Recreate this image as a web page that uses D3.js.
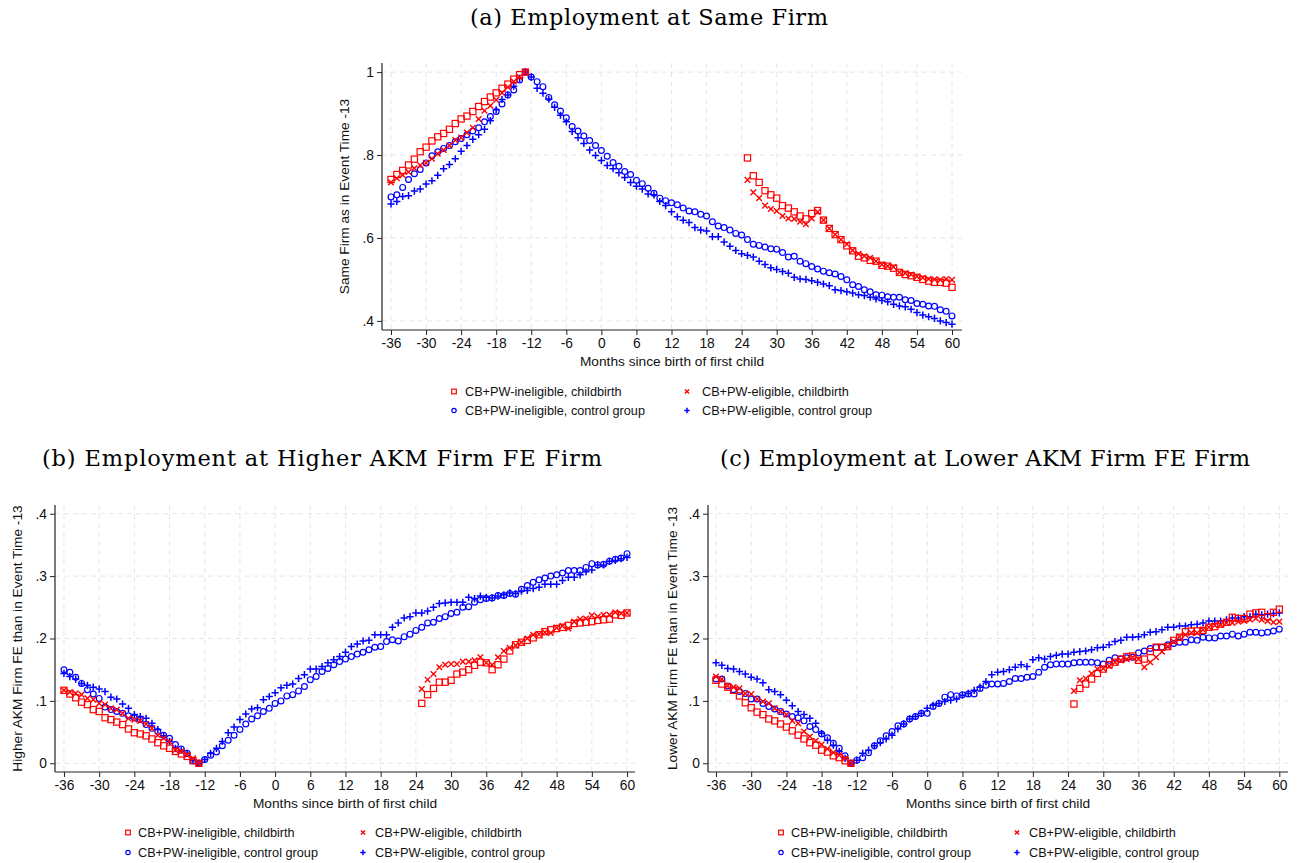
<!DOCTYPE html>
<html><head><meta charset="utf-8">
<script src="https://cdn.jsdelivr.net/npm/d3@7"></script>
<style>
body{margin:0;background:#fff;}
svg{display:block;}
</style></head>
<body><svg id="chart" width="1299" height="863"></svg>
<script>
// ---------- DATA ----------
const monthsAll = d3.range(-36, 61);                 // control groups: -36..60
const monthsChild = d3.range(-36, -12).concat(d3.range(25, 61)); // childbirth: -36..-13, 25..60
const xTicks = [-36,-30,-24,-18,-12,-6,0,6,12,18,24,30,36,42,48,54,60];
const yTicksA = [0.4,0.6,0.8,1];
const yTicksBC = [0,0.1,0.2,0.3,0.4];
const seriesNames = ["CB+PW-ineligible, childbirth","CB+PW-eligible, childbirth","CB+PW-ineligible, control group","CB+PW-eligible, control group"];
const titles = ["(a) Employment at Same Firm","(b) Employment at Higher AKM Firm FE Firm","(c) Employment at Lower AKM Firm FE Firm"];
const xTitle = "Months since birth of first child";
const yTitles = ["Same Firm as in Event Time -13","Higher AKM Firm FE than in Event Time -13","Lower AKM Firm FE than in Event Time -13"];

// Panel (a) Same firm
const aInelChild = [0.741,0.753,0.763,0.776,0.790,0.808,0.819,0.834,0.844,0.852,0.862,0.876,0.887,0.894,0.905,0.917,0.929,0.940,0.950,0.961,0.971,0.983,0.994,1.0,
 0.793,0.750,0.734,0.714,0.704,0.696,0.678,0.672,0.663,0.653,0.646,0.659,0.666,0.643,0.623,0.608,0.596,0.581,0.569,0.556,0.552,0.546,0.544,0.534,0.532,0.527,0.517,0.512,0.509,0.505,0.500,0.496,0.493,0.493,0.491,0.481];
const aEligChild = [0.734,0.744,0.752,0.759,0.768,0.775,0.781,0.791,0.803,0.812,0.823,0.836,0.842,0.854,0.866,0.887,0.907,0.919,0.933,0.950,0.964,0.977,0.988,1.0,
 0.740,0.710,0.696,0.678,0.670,0.665,0.653,0.647,0.646,0.639,0.633,0.647,0.663,0.643,0.623,0.608,0.596,0.585,0.570,0.562,0.556,0.552,0.544,0.536,0.532,0.530,0.517,0.515,0.512,0.507,0.504,0.501,0.500,0.499,0.501,0.499];
const aInelCtrl = [0.699,0.704,0.722,0.741,0.755,0.765,0.781,0.798,0.808,0.816,0.823,0.832,0.840,0.849,0.858,0.866,0.880,0.893,0.905,0.923,0.945,0.957,0.981,1.0,
 0.988,0.977,0.965,0.939,0.921,0.906,0.890,0.869,0.858,0.846,0.835,0.823,0.811,0.797,0.782,0.773,0.760,0.753,0.739,0.731,0.720,
 0.708,0.696,0.690,0.685,0.680,0.672,0.665,0.663,0.657,0.653,0.639,0.629,0.625,0.619,0.611,0.607,0.596,0.585,0.582,0.578,0.574,0.573,0.565,0.554,0.556,0.544,0.538,0.531,0.525,0.520,0.516,0.513,0.507,0.499,0.487,0.483,0.475,0.470,0.463,0.462,0.458,0.457,0.457,0.451,0.449,0.442,0.440,0.436,0.435,0.427,0.423,0.412];
const aEligCtrl = [0.682,0.688,0.700,0.702,0.713,0.718,0.730,0.738,0.751,0.767,0.777,0.791,0.809,0.823,0.838,0.849,0.862,0.883,0.909,0.934,0.945,0.966,0.985,1.0,
 0.988,0.961,0.949,0.935,0.915,0.896,0.880,0.857,0.842,0.828,0.812,0.799,0.787,0.775,0.767,0.757,0.746,0.734,0.725,0.718,0.706,
 0.704,0.688,0.678,0.663,0.651,0.643,0.637,0.625,0.619,0.617,0.603,0.603,0.590,0.580,0.570,0.562,0.558,0.554,0.544,0.536,0.528,0.524,0.519,0.515,0.505,0.501,0.500,0.497,0.493,0.489,0.485,0.475,0.473,0.470,0.467,0.463,0.461,0.457,0.453,0.449,0.446,0.440,0.436,0.434,0.428,0.420,0.414,0.410,0.406,0.400,0.396,0.392];

// Panel (b) Higher AKM firm FE
const bInelChild = [0.117,0.111,0.105,0.098,0.094,0.086,0.083,0.073,0.070,0.066,0.062,0.055,0.049,0.047,0.044,0.039,0.033,0.028,0.024,0.019,0.015,0.011,0.004,0.0,
 0.096,0.110,0.120,0.130,0.130,0.133,0.143,0.146,0.150,0.157,0.162,0.161,0.150,0.158,0.167,0.180,0.190,0.194,0.197,0.201,0.206,0.211,0.214,0.216,0.218,0.221,0.224,0.225,0.226,0.227,0.229,0.230,0.231,0.238,0.237,0.241];
const bEligChild = [0.117,0.114,0.112,0.110,0.104,0.102,0.096,0.094,0.088,0.086,0.080,0.072,0.070,0.068,0.063,0.056,0.045,0.040,0.035,0.021,0.019,0.013,0.008,0.0,
 0.119,0.134,0.143,0.154,0.158,0.159,0.159,0.163,0.163,0.165,0.170,0.161,0.158,0.170,0.180,0.185,0.189,0.194,0.200,0.206,0.207,0.210,0.209,0.217,0.220,0.216,0.227,0.231,0.232,0.237,0.235,0.238,0.238,0.242,0.240,0.241];
const bInelCtrl = [0.150,0.146,0.138,0.128,0.118,0.111,0.104,0.090,0.086,0.083,0.080,0.076,0.073,0.070,0.062,0.056,0.051,0.045,0.040,0.030,0.023,0.016,0.004,0.0,
 0.006,0.013,0.018,0.028,0.037,0.045,0.054,0.063,0.071,0.076,0.083,0.088,0.096,0.100,0.108,0.110,0.116,0.123,0.134,0.139,0.147,
 0.152,0.158,0.163,0.167,0.171,0.175,0.178,0.182,0.186,0.187,0.195,0.198,0.196,0.203,0.207,0.213,0.218,0.225,0.226,0.232,0.235,0.240,0.242,0.250,0.251,0.258,0.262,0.264,0.265,0.269,0.269,0.272,0.271,0.279,0.285,0.290,0.294,0.297,0.300,0.302,0.305,0.309,0.309,0.309,0.314,0.320,0.318,0.319,0.324,0.327,0.329,0.336];
const bEligCtrl = [0.144,0.139,0.135,0.128,0.125,0.122,0.119,0.115,0.106,0.103,0.095,0.088,0.078,0.075,0.072,0.064,0.054,0.044,0.035,0.024,0.021,0.016,0.004,0.0,
 0.006,0.016,0.024,0.035,0.049,0.058,0.070,0.079,0.087,0.089,0.102,0.107,0.113,0.121,0.125,0.127,0.136,0.142,0.151,0.151,0.155,
 0.161,0.166,0.171,0.178,0.187,0.191,0.196,0.197,0.206,0.206,0.206,0.218,0.225,0.233,0.235,0.241,0.241,0.244,0.250,0.256,0.257,0.258,0.258,0.258,0.266,0.264,0.268,0.266,0.265,0.268,0.270,0.273,0.272,0.276,0.277,0.280,0.282,0.287,0.287,0.287,0.293,0.298,0.298,0.302,0.307,0.310,0.318,0.318,0.324,0.325,0.328,0.330];

// Panel (c) Lower AKM firm FE
const cInelChild = [0.133,0.127,0.122,0.117,0.108,0.097,0.089,0.082,0.078,0.071,0.068,0.063,0.058,0.052,0.045,0.039,0.033,0.029,0.021,0.018,0.012,0.009,0.004,0.0,
 0.095,0.120,0.127,0.135,0.144,0.151,0.158,0.162,0.167,0.171,0.172,0.165,0.167,0.179,0.186,0.186,0.187,0.197,0.202,0.211,0.212,0.212,0.213,0.218,0.219,0.223,0.226,0.234,0.232,0.232,0.239,0.241,0.242,0.235,0.242,0.247];
const cEligChild = [0.139,0.135,0.124,0.122,0.120,0.112,0.111,0.103,0.099,0.096,0.088,0.083,0.078,0.068,0.064,0.051,0.043,0.036,0.030,0.023,0.017,0.013,0.008,0.0,
 0.116,0.133,0.136,0.144,0.151,0.152,0.156,0.162,0.165,0.167,0.170,0.167,0.154,0.162,0.170,0.179,0.187,0.195,0.203,0.206,0.209,0.209,0.214,0.218,0.221,0.222,0.225,0.225,0.227,0.228,0.230,0.232,0.230,0.228,0.226,0.227];
const cInelCtrl = [0.135,0.135,0.124,0.118,0.115,0.112,0.103,0.103,0.096,0.091,0.087,0.083,0.079,0.075,0.073,0.068,0.059,0.054,0.047,0.041,0.032,0.024,0.012,0.0,
 0.005,0.009,0.017,0.028,0.036,0.044,0.051,0.060,0.063,0.071,0.075,0.080,0.080,0.091,0.096,0.106,0.110,0.108,0.110,0.111,0.111,
 0.120,0.125,0.127,0.127,0.128,0.131,0.136,0.136,0.138,0.139,0.146,0.154,0.158,0.159,0.159,0.159,0.161,0.162,0.162,0.162,0.161,0.159,0.165,0.169,0.167,0.169,0.170,0.177,0.180,0.184,0.186,0.186,0.190,0.192,0.194,0.194,0.198,0.197,0.202,0.201,0.201,0.204,0.204,0.207,0.204,0.207,0.210,0.210,0.209,0.210,0.212,0.215];
const cEligCtrl = [0.161,0.157,0.152,0.151,0.147,0.143,0.138,0.135,0.129,0.118,0.115,0.110,0.101,0.092,0.083,0.078,0.072,0.064,0.048,0.037,0.029,0.019,0.008,0.0,
 0.005,0.016,0.021,0.028,0.033,0.039,0.045,0.055,0.063,0.071,0.075,0.080,0.088,0.093,0.096,0.099,0.101,0.103,0.109,0.112,0.117,
 0.122,0.131,0.142,0.146,0.147,0.150,0.154,0.158,0.155,0.166,0.169,0.167,0.171,0.173,0.175,0.175,0.178,0.179,0.180,0.182,0.185,0.186,0.190,0.195,0.197,0.202,0.202,0.203,0.206,0.210,0.211,0.214,0.218,0.218,0.220,0.220,0.222,0.223,0.225,0.228,0.228,0.228,0.230,0.233,0.233,0.235,0.235,0.239,0.238,0.239,0.240,0.241];

// ---------- DRAW ----------
const svg = d3.select("#chart");
const SANS = '"Liberation Sans", Arial, sans-serif';
const SERIF = '"DejaVu Serif", serif';
const RED = "#ff0000", BLUE = "#0000ff";

const panels = [
  {titleX:649, titleY:25, titleW:358,
   L:382, R:962, T:63, B:330, xDomain:[-37.54,61.71], yDomain:[0.378,1.022], yTicks:yTicksA,
   yFmt:v=>v===1?"1":d3.format(".1f")(v).replace(/^0/,""),
   ylabX:344,
   legX:[454,687], legTextX:[465,702], legY:[391.5,410.5],
   data:[aInelChild,aEligChild,aInelCtrl,aEligCtrl]},
  {titleX:322, titleY:466, titleW:560,
   L:55, R:635, T:505, B:772, xDomain:[-37.53,61.36], yDomain:[-0.014,0.414], yTicks:yTicksBC,
   yFmt:v=>v===0?"0":d3.format(".1f")(v).replace(/^0/,""),
   ylabX:17,
   legX:[128,363], legTextX:[138,375], legY:[832.5,852.5],
   data:[bInelChild,bEligChild,bInelCtrl,bEligCtrl]},
  {titleX:985, titleY:466, titleW:530,
   L:708, R:1288, T:505, B:772, xDomain:[-37.36,61.48], yDomain:[-0.014,0.414], yTicks:yTicksBC,
   yFmt:v=>v===0?"0":d3.format(".1f")(v).replace(/^0/,""),
   ylabX:672,
   legX:[781,1017], legTextX:[791,1029], legY:[832.5,852.5],
   data:[cInelChild,cEligChild,cInelCtrl,cEligCtrl]}
];

function marker(g, kind, x, y, scale){
  scale = scale||1;
  if(kind===0){ const s=3.1*scale; g.append("rect").attr("x",x-s).attr("y",y-s).attr("width",2*s).attr("height",2*s).attr("fill","none").attr("stroke",RED).attr("stroke-width",1.2); }
  else if(kind===1){ const s=2.8*scale; g.append("path").attr("d",`M${x-s},${y-s}L${x+s},${y+s}M${x-s},${y+s}L${x+s},${y-s}`).attr("stroke",RED).attr("stroke-width",1.4).attr("fill","none"); }
  else if(kind===2){ g.append("circle").attr("cx",x).attr("cy",y).attr("r",2.9*scale).attr("fill","none").attr("stroke",BLUE).attr("stroke-width",1.2); }
  else { const s=3.6*scale; g.append("path").attr("d",`M${x-s},${y}L${x+s},${y}M${x},${y-s}L${x},${y+s}`).attr("stroke",BLUE).attr("stroke-width",1.5).attr("fill","none"); }
}

panels.forEach((p,pi)=>{
  const x = d3.scaleLinear().domain(p.xDomain).range([p.L,p.R]);
  const y = d3.scaleLinear().domain(p.yDomain).range([p.B,p.T]);
  const g = svg.append("g");

  // title
  svg.append("text").attr("x",p.titleX).attr("y",p.titleY).attr("text-anchor","middle")
    .attr("font-family",SERIF).attr("font-size",22.5).attr("fill","#000")
    .attr("textLength",p.titleW).attr("lengthAdjust","spacing").text(titles[pi]);

  // grid
  const grid = g.append("g").attr("stroke","#e6e6e6").attr("stroke-width",1).attr("stroke-dasharray","5,4");
  p.yTicks.forEach(v=>grid.append("line").attr("x1",p.L).attr("x2",p.R).attr("y1",y(v)).attr("y2",y(v)));
  xTicks.forEach(v=>grid.append("line").attr("x1",x(v)).attr("x2",x(v)).attr("y1",p.T).attr("y2",p.B));

  // axes
  const xa = g.append("g").attr("transform",`translate(0,${p.B})`)
    .call(d3.axisBottom(x).tickValues(xTicks).tickFormat(v=>String(v)).tickSize(5).tickPadding(3).tickSizeOuter(0));
  const ya = g.append("g").attr("transform",`translate(${p.L},0)`)
    .call(d3.axisLeft(y).tickValues(p.yTicks).tickFormat(p.yFmt).tickSize(5).tickPadding(3).tickSizeOuter(0));
  [xa,ya].forEach(a=>{
    a.select(".domain").attr("stroke","#222").attr("stroke-width",1.2);
    a.selectAll(".tick line").attr("stroke","#222");
    a.selectAll(".tick text").attr("font-size",13.8).attr("fill","#111").attr("font-family",SANS);
  });
  xa.select(".domain").attr("d",`M${p.L},0H${p.R}`);
  ya.select(".domain").attr("d",`M0,${p.T}V${p.B}`);

  // axis titles
  svg.append("text").attr("x",(p.L+p.R)/2).attr("y",p.B+36).attr("text-anchor","middle")
    .attr("font-family",SANS).attr("font-size",13.7).attr("fill","#111").text(xTitle);
  svg.append("text").attr("transform",`translate(${p.ylabX},${(p.T+p.B)/2}) rotate(-90)`)
    .attr("text-anchor","middle").attr("dominant-baseline","central")
    .attr("font-family",SANS).attr("font-size",13.7).attr("fill","#111").text(yTitles[pi]);

  // points
  [2,3,0,1].forEach(k=>{
    const months = k<2 ? monthsChild : monthsAll;
    const vals = p.data[k];
    const mg = g.append("g");
    months.forEach((m,i)=>{ marker(mg,k,x(m),y(vals[i])); });
  });

  // legend
  const lg = svg.append("g");
  seriesNames.forEach((name,k)=>{
    const col = k%2, row = Math.floor(k/2);
    marker(lg,k,p.legX[col],p.legY[row],0.75);
    lg.append("text").attr("x",p.legTextX[col]).attr("y",p.legY[row]).attr("dominant-baseline","central")
      .attr("font-family",SANS).attr("font-size",12.7).attr("fill","#111").text(name);
  });
});
</script></body></html>
